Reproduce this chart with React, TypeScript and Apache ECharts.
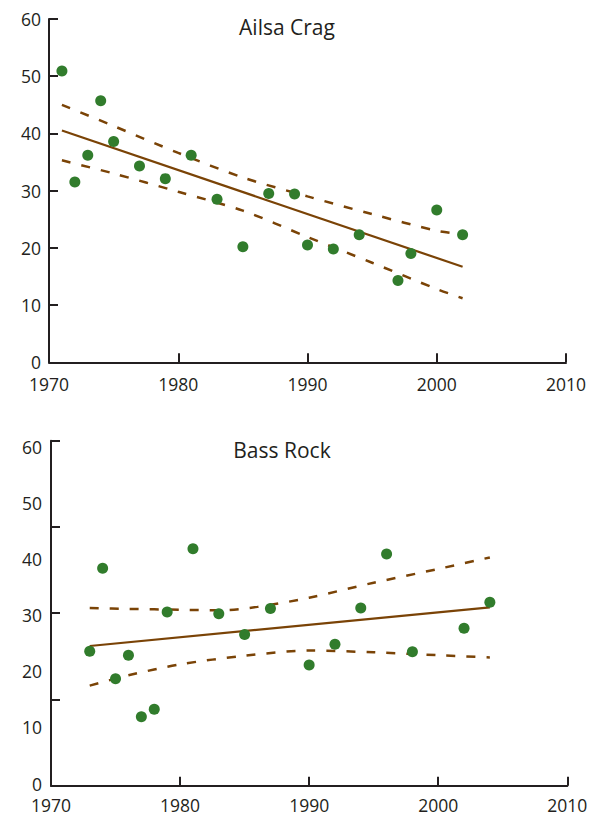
import React, { useEffect, useRef } from "react";
import * as echarts from "echarts";

// Ailsa Crag
const ailsaYears = [1971, 1972, 1973, 1974, 1975, 1977, 1979, 1981, 1983, 1985, 1987, 1989, 1990, 1992, 1994, 1997, 1998, 2000, 2002];
const ailsaValues = [50.9, 31.5, 36.2, 45.7, 38.6, 34.3, 32.1, 36.2, 28.5, 20.2, 29.5, 29.4, 20.5, 19.8, 22.3, 14.3, 19.0, 26.6, 22.3];
const ailsaFitYears = [1971, 2002];
const ailsaFitValues = [40.5, 16.7];
const ailsaBandYears = [1971, 1975, 1980, 1985, 1990, 1995, 2000, 2002];
const ailsaUpper = [45.0, 41.3, 36.6, 32.3, 29.0, 25.9, 23.0, 22.4];
const ailsaLower = [35.3, 33.0, 29.8, 26.5, 21.9, 17.4, 12.8, 11.2];

// Bass Rock
const bassYears = [1973, 1974, 1975, 1976, 1977, 1978, 1979, 1981, 1983, 1985, 1987, 1990, 1992, 1994, 1996, 1998, 2002, 2004];
const bassValues = [23.4, 37.8, 18.6, 22.7, 12.0, 13.3, 30.2, 41.2, 29.9, 26.3, 30.8, 21.0, 24.6, 30.9, 40.3, 23.3, 27.4, 31.9];
const bassFitYears = [1973, 2004];
const bassFitValues = [24.3, 31.0];
const bassUpperYears = [1973, 1976, 1980, 1983, 1986, 1990, 1995, 2000, 2004];
const bassUpper = [30.9, 30.75, 30.6, 30.5, 31.1, 32.7, 35.3, 37.7, 39.7];
const bassLowerYears = [1973, 1976, 1980, 1985, 1990, 1995, 2000, 2004];
const bassLower = [17.4, 19.2, 21.1, 22.6, 23.5, 23.2, 22.7, 22.3];

const titles = ["Ailsa Crag", "Bass Rock"];

const AXIS = "#231f20";
const BROWN = "#7a4306";
const GREEN = "#317c2c";
const FONT = '"Open Sans", "DejaVu Sans", sans-serif';

const zip = (xs: number[], ys: number[]) => xs.map((x, i) => [x, ys[i]]);

function xAxis(gridIndex: number, margin: number) {
  return {
    type: "value",
    gridIndex,
    min: 1970,
    max: 2010,
    interval: 10,
    axisLine: { onZero: false, lineStyle: { color: AXIS, width: 2 } },
    axisTick: { inside: true, length: 9, lineStyle: { color: AXIS, width: 2 } },
    splitLine: { show: false },
    axisLabel: {
      color: AXIS,
      fontSize: 17.5,
      lineHeight: 16,
      fontFamily: FONT,
      margin,
      formatter: (v: number) => String(v),
    },
  };
}

export default function App() {
  const ref = useRef<HTMLDivElement>(null);

  useEffect(() => {
    document.body.style.margin = "0";
    const chart = echarts.init(ref.current!, null, { renderer: "svg" });

    const scatter = (xi: number, years: number[], vals: number[]) => ({
      type: "scatter",
      xAxisIndex: xi,
      yAxisIndex: xi,
      data: zip(years, vals),
      symbolSize: 11,
      itemStyle: { color: GREEN, opacity: 1 },
      z: 5,
    });
    const line = (xi: number, years: number[], vals: number[], dashed: boolean) => ({
      type: "line",
      xAxisIndex: xi,
      yAxisIndex: xi,
      data: zip(years, vals),
      showSymbol: false,
      symbol: "none",
      smooth: dashed ? 0.3 : false,
      lineStyle: { color: BROWN, width: dashed ? 2.5 : 2.2, type: dashed ? [9, 11] : "solid" },
      z: 3,
    });

    chart.setOption({
      animation: false,
      grid: [
        { left: 49, top: 19, width: 517, height: 343.3 },
        { left: 51, top: 440.7, width: 516.3, height: 345 },
        // label-only grid for the Bass Rock value labels (slightly compressed as in the original)
        { left: 51, top: 447, width: 516.3, height: 336.5 },
      ],
      xAxis: [
        xAxis(0, 14),
        xAxis(1, 11.5),
        { type: "value", gridIndex: 2, min: 1970, max: 2010, show: false },
      ],
      yAxis: [
        {
          type: "value",
          gridIndex: 0,
          min: 0,
          max: 60,
          interval: 10,
          axisLine: { show: true, lineStyle: { color: AXIS, width: 2 } },
          axisTick: { inside: true, length: 9, lineStyle: { color: AXIS, width: 2 } },
          splitLine: { show: false },
          axisLabel: { color: AXIS, fontSize: 17.5, lineHeight: 14, fontFamily: FONT, margin: 8 },
        },
        {
          type: "value",
          gridIndex: 1,
          min: 0,
          max: 60,
          interval: 15,
          axisLine: { show: true, lineStyle: { color: AXIS, width: 2 } },
          axisTick: { inside: true, length: 9, lineStyle: { color: AXIS, width: 2 } },
          splitLine: { show: false },
          axisLabel: { show: false },
        },
        {
          type: "value",
          gridIndex: 2,
          min: 0,
          max: 60,
          interval: 10,
          axisLine: { show: false },
          axisTick: { show: false },
          splitLine: { show: false },
          axisLabel: { color: AXIS, fontSize: 17.5, lineHeight: 14, fontFamily: FONT, margin: 9 },
        },
      ],
      graphic: [
        {
          type: "text",
          x: 287,
          y: 27,
          style: { text: titles[0], fontSize: 21, fontFamily: FONT, fill: AXIS, align: "center", verticalAlign: "middle" },
        },
        {
          type: "text",
          x: 282,
          y: 450,
          style: { text: titles[1], fontSize: 21, fontFamily: FONT, fill: AXIS, align: "center", verticalAlign: "middle" },
        },
      ],
      series: [
        line(0, ailsaBandYears, ailsaUpper, true),
        line(0, ailsaBandYears, ailsaLower, true),
        line(0, ailsaFitYears, ailsaFitValues, false),
        scatter(0, ailsaYears, ailsaValues),
        line(1, bassUpperYears, bassUpper, true),
        line(1, bassLowerYears, bassLower, true),
        line(1, bassFitYears, bassFitValues, false),
        scatter(1, bassYears, bassValues),
      ],
    });

    return () => chart.dispose();
  }, []);

  return <div ref={ref} style={{ width: 601, height: 816 }} />;
}
